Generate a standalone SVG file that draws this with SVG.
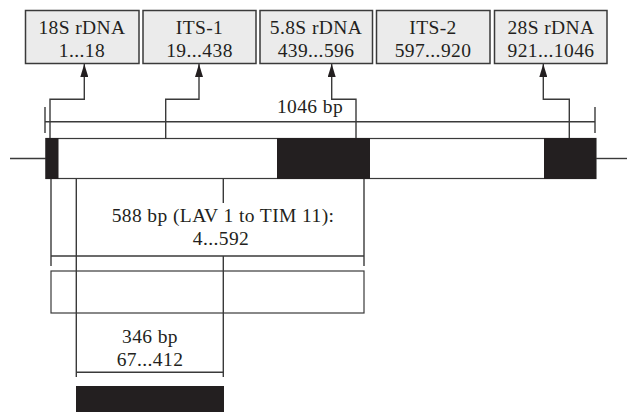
<svg xmlns="http://www.w3.org/2000/svg" width="630" height="412" viewBox="0 0 630 412">
<defs>
<marker id="ah" viewBox="0 0 13 8" refX="13" refY="4" markerWidth="13" markerHeight="8" markerUnits="userSpaceOnUse" orient="auto">
<path d="M0,0 L13,4 L0,8 Z" fill="#231f20"/>
</marker>
<style>
.box{fill:#ebebeb;stroke:#3a3a3a;stroke-width:1.5}
.t{font-family:"Liberation Serif","Times New Roman",serif;font-size:19.5px;letter-spacing:0.4px;fill:#231f20;text-anchor:middle}
.ln{fill:none;stroke:#3a3a3a;stroke-width:1.4}
.blk{fill:#231f20}
.wht{fill:#fff;stroke:#3a3a3a;stroke-width:1.2}
</style>
</defs>
<rect width="630" height="412" fill="#fff"/>
<g id="box-18S">
<rect class="box" x="25.5" y="10.5" width="113.5" height="53"/>
<text class="t" x="82" y="34">18S rDNA</text>
<text class="t" x="82" y="56.5">1...18</text>
</g>
<g id="box-ITS1">
<rect class="box" x="143" y="10.5" width="113" height="53"/>
<text class="t" x="199.5" y="34">ITS-1</text>
<text class="t" x="199.5" y="56.5">19...438</text>
</g>
<g id="box-58S">
<rect class="box" x="260" y="10.5" width="112.5" height="53"/>
<text class="t" x="316" y="34">5.8S rDNA</text>
<text class="t" x="316" y="56.5">439...596</text>
</g>
<g id="box-ITS2">
<rect class="box" x="376.5" y="10.5" width="113.5" height="53"/>
<text class="t" x="433" y="34">ITS-2</text>
<text class="t" x="433" y="56.5">597...920</text>
</g>
<g id="box-28S">
<rect class="box" x="494.5" y="10.5" width="112.5" height="53"/>
<text class="t" x="551" y="34">28S rDNA</text>
<text class="t" x="551" y="56.5">921...1046</text>
</g>
<g id="gene-bar">
<line class="ln" x1="10" y1="158.5" x2="46" y2="158.5"/>
<line class="ln" x1="596" y1="158.5" x2="627" y2="158.5"/>
<rect class="wht" x="46" y="138.5" width="550" height="40"/>
<rect class="blk" x="45.5" y="138" width="13" height="41"/>
<rect class="blk" x="277" y="138" width="93" height="41"/>
<rect class="blk" x="544" y="138" width="52" height="41"/>
</g>
<g id="scale">
<line class="ln" x1="45" y1="121.7" x2="595" y2="121.7"/>
<line class="ln" x1="45" y1="107" x2="45" y2="133"/>
<line class="ln" x1="595" y1="107" x2="595" y2="133"/>
<text class="t" x="310" y="113">1046 bp</text>
</g>
<g id="region-588">
<line class="ln" x1="51" y1="179" x2="51" y2="266"/>
<line class="ln" x1="364" y1="179" x2="364" y2="266"/>
<line class="ln" x1="51" y1="256" x2="364" y2="256"/>
<line class="ln" x1="223.3" y1="179" x2="223.3" y2="203"/>
<text class="t" x="223" y="221.5">588 bp (LAV 1 to TIM 11):</text>
<text class="t" x="221" y="244.5">4...592</text>
<rect class="wht" x="51" y="271" width="313" height="42" fill="none"/>
</g>
<g id="region-346">
<line class="ln" x1="76.3" y1="179" x2="76.3" y2="377"/>
<line class="ln" x1="223.3" y1="256" x2="223.3" y2="377"/>
<line class="ln" x1="76.3" y1="372.3" x2="223.3" y2="372.3"/>
<text class="t" x="150" y="343">346 bp</text>
<text class="t" x="150" y="366">67...412</text>
<rect class="blk" x="76" y="386" width="148" height="26"/>
</g>
<g id="connectors">
<polyline class="ln" points="50,138 50,99.3 84.3,99.3 84.3,64" marker-end="url(#ah)"/>
<polyline class="ln" points="165.7,138 165.7,99.3 199,99.3 199,64" marker-end="url(#ah)"/>
<polyline class="ln" points="356,138 356,99.3 331.7,99.3 331.7,64" marker-end="url(#ah)"/>
<polyline class="ln" points="569.3,138 569.3,99.3 543.3,99.3 543.3,64" marker-end="url(#ah)"/>
</g>
</svg>
